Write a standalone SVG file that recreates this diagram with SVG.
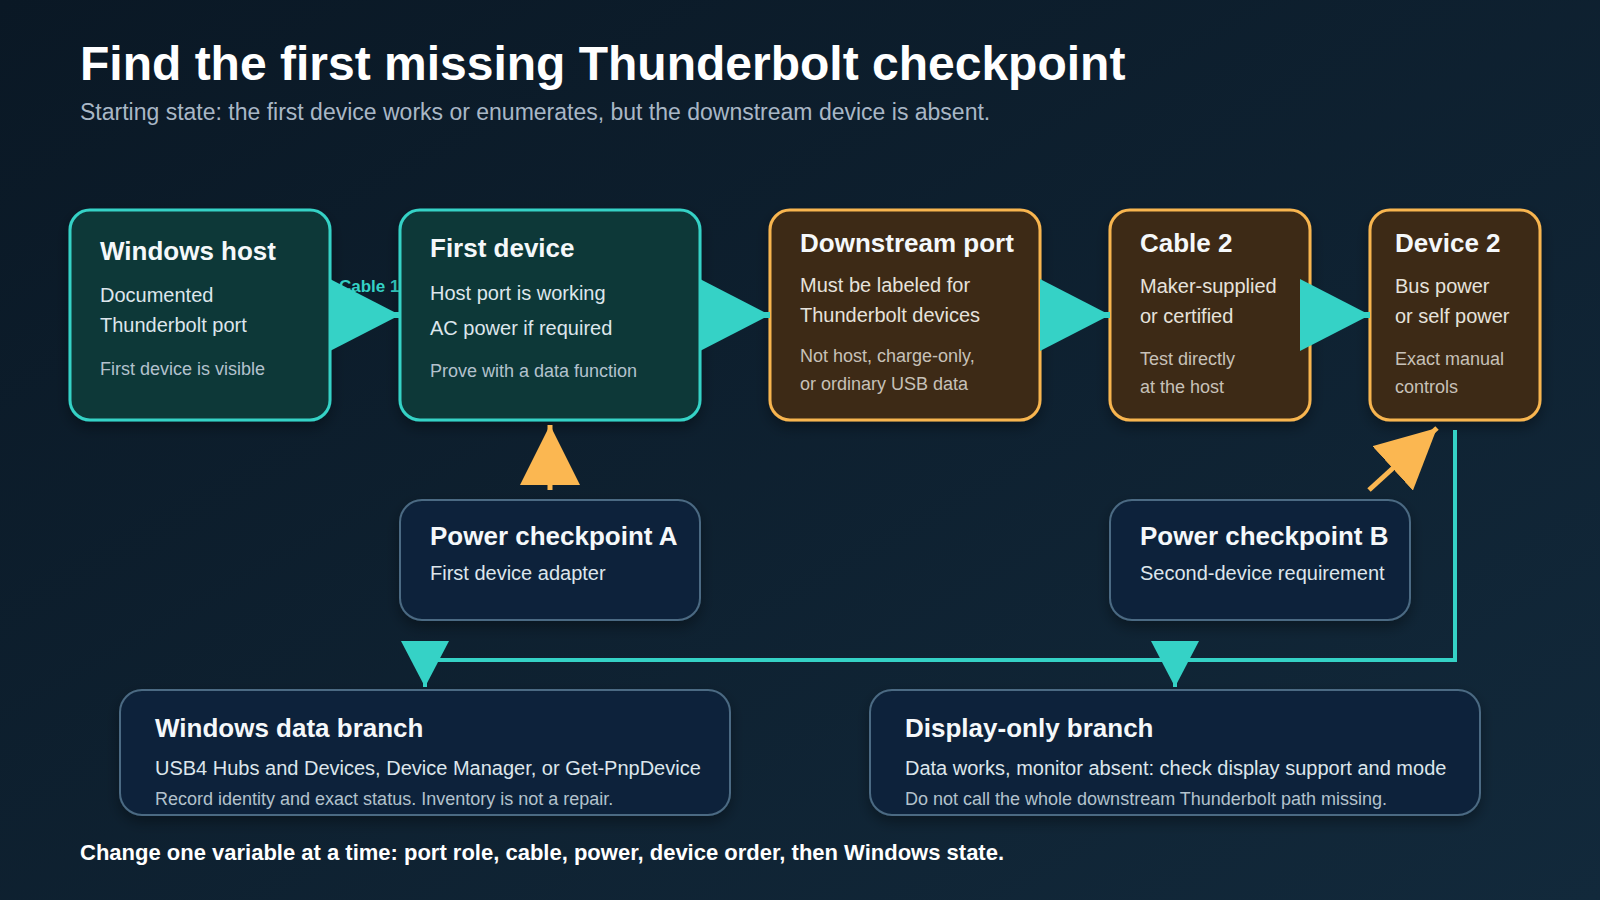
<svg xmlns="http://www.w3.org/2000/svg" width="1600" height="900" viewBox="0 0 1600 900">
  <defs>
    <linearGradient id="bg" x1="0" y1="0" x2="1" y2="1">
      <stop offset="0" stop-color="#0a1825"/>
      <stop offset="1" stop-color="#12293b"/>
    </linearGradient>
    <filter id="shadow" x="-10%" y="-10%" width="120%" height="130%">
      <feDropShadow dx="0" dy="6" stdDeviation="7" flood-color="#000000" flood-opacity="0.35"/>
    </filter>
    <marker id="tealBig" markerUnits="userSpaceOnUse" markerWidth="70" markerHeight="72" refX="70" refY="36" orient="auto">
      <path d="M0,0 L70,36 L0,72 Z" fill="#35d2c6"/>
    </marker>
    <marker id="tealSmall" markerUnits="userSpaceOnUse" markerWidth="46" markerHeight="48" refX="46" refY="24" orient="auto">
      <path d="M0,0 L46,24 L0,48 Z" fill="#35d2c6"/>
    </marker>
    <marker id="orange" markerUnits="userSpaceOnUse" markerWidth="60" markerHeight="60" refX="60" refY="30" orient="auto">
      <path d="M0,0 L60,30 L0,60 Z" fill="#fbb751"/>
    </marker>
  </defs>
  <style>
    text { font-family: "Liberation Sans", Arial, sans-serif; }
    .title { font-size: 48px; font-weight: bold; fill: #ffffff; }
    .subtitle { font-size: 23px; fill: #a9b7c6; }
    .footer { font-size: 22px; font-weight: bold; fill: #ffffff; }
    .h { font-size: 26px; font-weight: bold; fill: #f5f8fa; }
    .b { font-size: 20px; fill: #dde6ec; }
    .s { font-size: 18px; fill: #b3c2cd; }
    .teal rect { fill: #0d3838; stroke: #35d2c6; stroke-width: 3; }
    .amber rect { fill: #3d2b18; stroke: #f8b54f; stroke-width: 3; }
    .amber .b { fill: #e6e2dc; }
    .amber .s { fill: #c7c1b8; }
    .slate rect { fill: #0f243b; stroke: #4b6a83; stroke-width: 2; }
    .lbl { font-size: 17px; font-weight: bold; fill: #35d2c6; }
    .tl { stroke: #35d2c6; fill: none; }
    .ol { stroke: #fbb751; fill: none; stroke-width: 5; }
  </style>

  <rect x="0" y="0" width="1600" height="900" fill="url(#bg)"/>

  <text class="title" x="80" y="80">Find the first missing Thunderbolt checkpoint</text>
  <text class="subtitle" x="80" y="120">Starting state: the first device works or enumerates, but the downstream device is absent.</text>

  <g id="edge-labels">
    <text class="lbl" x="339" y="292">Cable 1</text>
  </g>

  <g id="node-windows-host" class="teal">
    <rect x="70" y="210" width="260" height="210" rx="20" filter="url(#shadow)"/>
    <text class="h" x="100" y="260">Windows host</text>
    <text class="b" x="100" y="302">Documented</text>
    <text class="b" x="100" y="332">Thunderbolt port</text>
    <text class="s" x="100" y="375">First device is visible</text>
  </g>

  <g id="node-first-device" class="teal">
    <rect x="400" y="210" width="300" height="210" rx="20" filter="url(#shadow)"/>
    <text class="h" x="430" y="257">First device</text>
    <text class="b" x="430" y="300">Host port is working</text>
    <text class="b" x="430" y="335">AC power if required</text>
    <text class="s" x="430" y="377">Prove with a data function</text>
  </g>

  <g id="node-downstream-port" class="amber">
    <rect x="770" y="210" width="270" height="210" rx="20" filter="url(#shadow)"/>
    <text class="h" x="800" y="252">Downstream port</text>
    <text class="b" x="800" y="292">Must be labeled for</text>
    <text class="b" x="800" y="322">Thunderbolt devices</text>
    <text class="s" x="800" y="362">Not host, charge-only,</text>
    <text class="s" x="800" y="390">or ordinary USB data</text>
  </g>

  <g id="node-cable-2" class="amber">
    <rect x="1110" y="210" width="200" height="210" rx="20" filter="url(#shadow)"/>
    <text class="h" x="1140" y="252">Cable 2</text>
    <text class="b" x="1140" y="293">Maker-supplied</text>
    <text class="b" x="1140" y="323">or certified</text>
    <text class="s" x="1140" y="365">Test directly</text>
    <text class="s" x="1140" y="393">at the host</text>
  </g>

  <g id="node-device-2" class="amber">
    <rect x="1370" y="210" width="170" height="210" rx="20" filter="url(#shadow)"/>
    <text class="h" x="1395" y="252">Device 2</text>
    <text class="b" x="1395" y="293">Bus power</text>
    <text class="b" x="1395" y="323">or self power</text>
    <text class="s" x="1395" y="365">Exact manual</text>
    <text class="s" x="1395" y="393">controls</text>
  </g>

  <g id="node-power-a" class="slate">
    <rect x="400" y="500" width="300" height="120" rx="22" filter="url(#shadow)"/>
    <text class="h" x="430" y="545">Power checkpoint A</text>
    <text class="b" x="430" y="580">First device adapter</text>
  </g>

  <g id="node-power-b" class="slate">
    <rect x="1110" y="500" width="300" height="120" rx="22" filter="url(#shadow)"/>
    <text class="h" x="1140" y="545">Power checkpoint B</text>
    <text class="b" x="1140" y="580">Second-device requirement</text>
  </g>

  <g id="node-windows-data" class="slate">
    <rect x="120" y="690" width="610" height="125" rx="22" filter="url(#shadow)"/>
    <text class="h" x="155" y="737">Windows data branch</text>
    <text class="b" x="155" y="775">USB4 Hubs and Devices, Device Manager, or Get-PnpDevice</text>
    <text class="s" x="155" y="805">Record identity and exact status. Inventory is not a repair.</text>
  </g>

  <g id="node-display-only" class="slate">
    <rect x="870" y="690" width="610" height="125" rx="22" filter="url(#shadow)"/>
    <text class="h" x="905" y="737">Display-only branch</text>
    <text class="b" x="905" y="775">Data works, monitor absent: check display support and mode</text>
    <text class="s" x="905" y="805">Do not call the whole downstream Thunderbolt path missing.</text>
  </g>

  <g id="connectors">
    <path class="tl" stroke-width="6" d="M330,315 L400,315" marker-end="url(#tealBig)"/>
    <path class="tl" stroke-width="6" d="M700,315 L770,315" marker-end="url(#tealBig)"/>
    <path class="tl" stroke-width="6" d="M1040,315 L1110,315" marker-end="url(#tealBig)"/>
    <path class="tl" stroke-width="6" d="M1310,315 L1370,315" marker-end="url(#tealBig)"/>
    <path class="ol" d="M550,490 L550,425" marker-end="url(#orange)"/>
    <path class="ol" d="M1369,490 L1437,428" marker-end="url(#orange)"/>
    <path class="tl" stroke-width="4" d="M1455,430 V660 H425 V687" marker-end="url(#tealSmall)"/>
    <path class="tl" stroke-width="4" d="M1455,430 V660 H1175 V687" marker-end="url(#tealSmall)"/>
  </g>

  <text class="footer" x="80" y="860">Change one variable at a time: port role, cable, power, device order, then Windows state.</text>
</svg>
